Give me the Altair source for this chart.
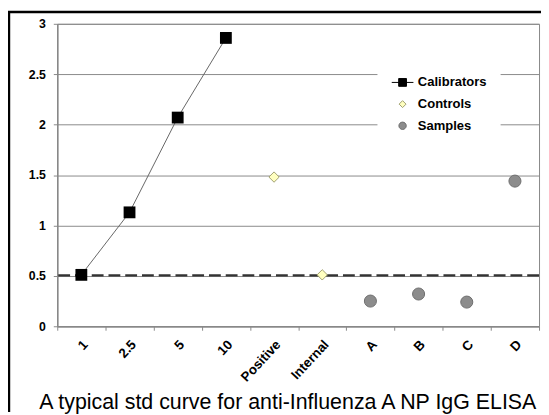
import altair as alt
import pandas as pd

# ---- data ----
categories = ["1", "2.5", "5", "10", "Positive", "Internal", "A", "B", "C", "D"]
calibrator_cats = ["1", "2.5", "5", "10"]
calibrator_values = [0.51, 1.13, 2.07, 2.86]
control_cats = ["Positive", "Internal"]
control_values = [1.48, 0.51]
sample_cats = ["A", "B", "C", "D"]
sample_values = [0.25, 0.32, 0.24, 1.44]
cutoff = [0.505]
series_names = ["Calibrators", "Controls", "Samples"]
y_ticks = [0, 0.5, 1, 1.5, 2, 2.5, 3]
caption = ["A typical std curve for anti-Influenza A NP IgG ELISA"]

FONT = "Liberation Sans"

cal_df = pd.DataFrame({"cat": calibrator_cats, "value": calibrator_values})
ctl_df = pd.DataFrame({"cat": control_cats, "value": control_values})
smp_df = pd.DataFrame({"cat": sample_cats, "value": sample_values})
cut_df = pd.DataFrame({"value": cutoff})
leg_df = pd.DataFrame({"series": series_names})
cap_df = pd.DataFrame({"text": caption})

x_enc = alt.X(
    "cat:N",
    sort=categories,
    scale=alt.Scale(domain=categories, type="band", paddingInner=0, paddingOuter=0),
    axis=alt.Axis(
        title=None,
        labelAngle=-47,
        labelAlign="right",
        labelBaseline="middle",
        labelFont=FONT,
        labelFontWeight="bold",
        labelFontSize=13.5,
        labelColor="black",
        labelPadding=12,
        labelOffset=4,
        tickBand="extent",
        tickSize=4,
        tickColor="#888888",
        domainColor="#888888",
        domainWidth=1.5,
        grid=False,
    ),
)
y_enc = alt.Y(
    "value:Q",
    scale=alt.Scale(domain=[0, 3], nice=False),
    axis=alt.Axis(
        title=None,
        values=y_ticks,
        format="~g",
        labelFont=FONT,
        labelFontWeight="bold",
        labelFontSize=12.5,
        labelColor="black",
        labelPadding=8,
        tickSize=4,
        tickColor="#888888",
        domainColor="#888888",
        domainWidth=1.5,
        grid=True,
        gridColor="#8a8a8a",
        gridWidth=1,
        gridOpacity=1,
    ),
)

cut_rule = alt.Chart(cut_df).mark_rule(
    color="#333333", strokeWidth=2.5, strokeDash=[12, 5]
).encode(y=alt.Y("value:Q"))

cal_line = alt.Chart(cal_df).mark_line(color="#666666", strokeWidth=1).encode(
    x=x_enc, y=y_enc
)
cal_pts = alt.Chart(cal_df).mark_square(
    size=144, color="black", opacity=1
).encode(x=x_enc, y=y_enc)

ctl_pts = alt.Chart(ctl_df).mark_point(
    shape="diamond", filled=True, fill="#FFFFC0", stroke="#A0A070",
    strokeWidth=1, size=110, opacity=1
).encode(x=x_enc, y=y_enc)

smp_pts = alt.Chart(smp_df).mark_point(
    shape="circle", filled=True, fill="#8C8C8C", stroke="#6E6E6E",
    strokeWidth=1, size=150, opacity=1
).encode(x=x_enc, y=y_enc)

shapes = [
    "M-1,0H1M-0.36,-0.36H0.36V0.36H-0.36Z",
    "M0,-0.32L0.32,0L0,0.32L-0.32,0Z",
    "M-0.34,0A0.34,0.34 0 1,0 0.34,0A0.34,0.34 0 1,0 -0.34,0Z",
]
fills = ["black", "#FFFFC0", "#8C8C8C"]
strokes = ["black", "#A0A070", "#6E6E6E"]

legend = alt.Legend(
    title=None,
    orient="none",
    legendX=325,
    legendY=34,
    fillColor="white",
    padding=14,
    symbolSize=484,
    symbolStrokeWidth=1,
    symbolOpacity=1,
    labelFont=FONT,
    labelFontWeight="bold",
    labelFontSize=13.2,
    labelColor="black",
    labelOffset=4,
    rowPadding=4,
)

leg_layer = alt.Chart(leg_df).mark_point(filled=True, opacity=1).encode(
    shape=alt.Shape("series:N", scale=alt.Scale(domain=series_names, range=shapes), legend=legend),
    fill=alt.Fill("series:N", scale=alt.Scale(domain=series_names, range=fills), legend=legend),
    stroke=alt.Stroke("series:N", scale=alt.Scale(domain=series_names, range=strokes), legend=legend),
).transform_filter("false")

cap = alt.Chart(cap_df).mark_text(
    font=FONT, fontSize=21.7, color="black", align="center", baseline="alphabetic"
).encode(text="text:N", x=alt.value(234), y=alt.value(391))

border_v = alt.Chart(cap_df).mark_rule(color="black", strokeWidth=2.5).encode(
    x=alt.value(-49), y=alt.value(-13), y2=alt.value(394)
)
border_h = alt.Chart(cap_df).mark_rule(color="black", strokeWidth=2.5).encode(
    x=alt.value(-50), x2=alt.value(491), y=alt.value(-12)
)

chart = alt.layer(
    cut_rule, cal_line, cal_pts, ctl_pts, smp_pts, leg_layer, cap, border_v, border_h
).properties(
    width=489,
    height=307,
    padding={"left": 50, "top": 13, "right": 2, "bottom": 87},
    autosize=alt.AutoSizeParams(type="none"),
    background="white",
).configure_view(stroke="#888888", strokeWidth=1)

chart.save("out.html", embed_options={"renderer": "svg", "actions": False})
